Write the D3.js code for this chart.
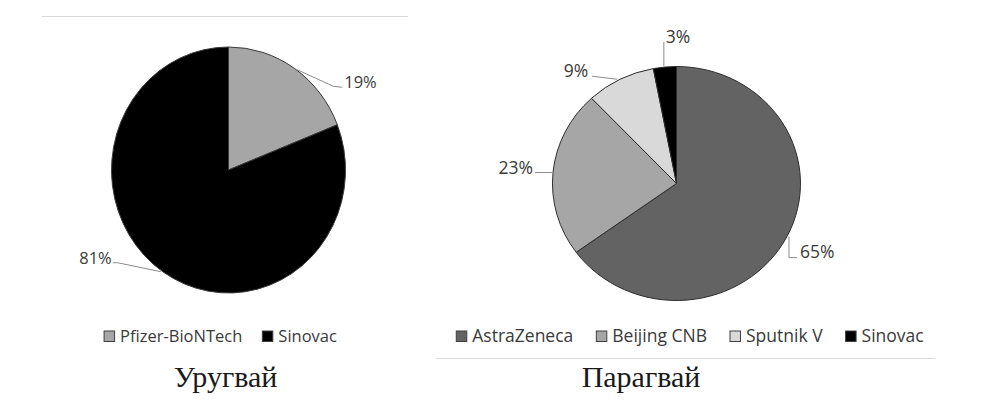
<!DOCTYPE html>
<html>
<head>
<meta charset="utf-8">
<script src="https://cdn.jsdelivr.net/npm/d3@7"></script>
<style>
  html, body { margin: 0; padding: 0; background: #fff; }
  svg { display: block; }
</style>
</head>
<body>
<svg id="chart" width="1001" height="416"></svg>
<script>
// ---- data ----
const uruguayCategories = ["Pfizer-BioNTech", "Sinovac"];
const uruguayValues = [19, 81];
const paraguayCategories = ["AstraZeneca", "Beijing CNB", "Sputnik V", "Sinovac"];
const paraguayValues = [65, 23, 9, 3];
const titles = ["Уругвай", "Парагвай"];

// ---- styles ----
const colorMap = {
  "Pfizer-BioNTech": "#a6a6a6",
  "Sinovac": "#000000",
  "AstraZeneca": "#636363",
  "Beijing CNB": "#a6a6a6",
  "Sputnik V": "#d9d9d9"
};
const labelFont = "'Open Sans', Lato, sans-serif";
const textColor = "#3a3a3a";

const svg = d3.select("#chart");

// decorative separator lines
svg.append("line").attr("x1", 42).attr("x2", 408).attr("y1", 16.5).attr("y2", 16.5)
  .attr("stroke", "#d9d9d9").attr("stroke-width", 1.2);
svg.append("line").attr("x1", 436).attr("x2", 935).attr("y1", 358.5).attr("y2", 358.5)
  .attr("stroke", "#d9d9d9").attr("stroke-width", 1.2);

function drawPie(cfg) {
  const data = cfg.categories.map((c, i) => ({ cat: c, value: cfg.values[i] }));
  const pie = d3.pie().sort(null).value(d => d.value);
  const arcs = pie(data);
  const arc = d3.arc().innerRadius(0).outerRadius(1);

  const g = svg.append("g")
    .attr("transform", `translate(${cfg.cx},${cfg.cy}) scale(${cfg.rx},${cfg.ry})`);
  g.selectAll("path").data(arcs).join("path")
    .attr("d", arc)
    .attr("fill", d => colorMap[d.data.cat])
    .attr("stroke", cfg.stroke)
    .attr("stroke-width", 1)
    .attr("vector-effect", "non-scaling-stroke");

  const total = d3.sum(cfg.values);
  const fmt = v => Math.round(v / total * 100) + "%";

  // data labels with leader lines
  arcs.forEach((a, i) => {
    const spec = cfg.labelSpecs[i];
    const mid = (a.startAngle + a.endAngle) / 2;
    const ax = cfg.cx + cfg.rx * Math.sin(mid);
    const ay = cfg.cy - cfg.ry * Math.cos(mid);
    const pts = [[ax + spec.a[0], ay + spec.a[1]]].concat(spec.pts.map(p => [ax + p[0], ay + p[1]]));
    svg.append("path")
      .attr("d", d3.line()(pts))
      .attr("fill", "none")
      .attr("stroke", "#8c8c8c")
      .attr("stroke-width", 1);
    svg.append("text")
      .attr("x", ax + spec.t[0]).attr("y", ay + spec.t[1])
      .attr("text-anchor", spec.anchor)
      .attr("font-family", labelFont)
      .attr("font-size", cfg.fontSize)
      .attr("fill", textColor)
      .text(fmt(a.data.value));
  });

  // legend
  const lg = svg.append("g");
  let x = 0;
  cfg.categories.forEach(c => {
    const item = lg.append("g");
    item.append("rect").attr("x", x).attr("y", cfg.legendY - 11)
      .attr("width", 10.5).attr("height", 10.5)
      .attr("fill", colorMap[c]).attr("stroke", "#404040").attr("stroke-width", 1);
    const t = item.append("text").attr("x", x + 16).attr("y", cfg.legendY)
      .attr("font-family", labelFont).attr("font-size", cfg.fontSize)
      .attr("fill", textColor).text(c);
    const w = t.node().getComputedTextLength();
    x += 16 + w + cfg.legendGap;
  });
  const totalW = x - cfg.legendGap;
  lg.attr("transform", `translate(${cfg.legendCx - totalW / 2},0)`);

  // title
  svg.append("text")
    .attr("x", cfg.titleX).attr("y", cfg.titleY)
    .attr("text-anchor", "middle")
    .attr("font-family", "'Liberation Serif', 'DejaVu Serif', serif")
    .attr("font-size", 30)
    .attr("fill", "#1a1a1a")
    .text(cfg.title);
}

drawPie({
  categories: uruguayCategories, values: uruguayValues, title: titles[0],
  cx: 228.5, cy: 170, rx: 117, ry: 123, stroke: "#3a3a3a", fontSize: 16.5,
  labelSpecs: [
    { a: [2, 1], pts: [[39, 18], [48, 19]], t: [50, 20], anchor: "start" },
    { a: [-2, 0], pts: [[-45, -9], [-50, -9]], t: [-51, -8], anchor: "end" }
  ],
  legendY: 342, legendCx: 220.5, legendGap: 20,
  titleX: 225.5, titleY: 387
});

drawPie({
  categories: paraguayCategories, values: paraguayValues, title: titles[1],
  cx: 676.5, cy: 183.5, rx: 124, ry: 117, stroke: "#2e2e2e", fontSize: 17.5,
  labelSpecs: [
    { a: [2, 0], pts: [[2, 21], [10, 21]], t: [13, 21], anchor: "start" },
    { a: [-1, 0], pts: [[-18, 0]], t: [-20, 1.5], anchor: "end" },
    { a: [-3, 0], pts: [[-28, -3]], t: [-32, -2], anchor: "end" },
    { a: [-1, -1], pts: [[-1, -25]], t: [1, -24], anchor: "start" }
  ],
  legendY: 342, legendCx: 690, legendGap: 23,
  titleX: 641, titleY: 387
});
</script>
</body>
</html>
